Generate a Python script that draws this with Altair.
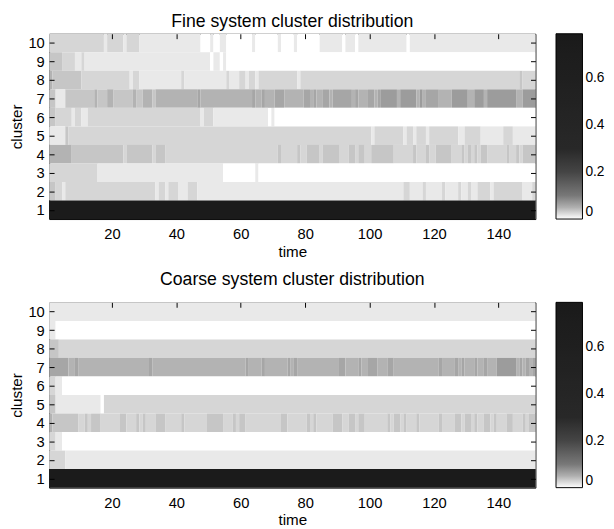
import altair as alt
import pandas as pd

# grey level codes -> cluster probability value
LEVELS = {"W": 0.0, "A": 0.01, "B": 0.02, "C": 0.03, "D": 0.045,
          "E": 0.06, "F": 0.075, "K": 0.75}

# run-length rows: code + last time step of the run
FINE_ROWS = {
    10: "B17 A18 B23 A24 B28 A47 W50 A51 W53 A55 W63 A64 W71 A72 W76 A77 W84 A91 W92 A95 W96 A111 W112 A151",
    9: "C4 B8 A10 B11 A50 W51 A53 W54 A55 W151",
    8: "D1 C10 B25 A26 B28 A41 B42 A55 B56 A59 B61 A62 B64 A65 B77 A78 B146 C147 B151",
    7: "C2 A5 C14 D15 C18 D20 C26 D27 C29 D32 C33 D46 E47 D63 E64 D66 E67 D70 E73 D79 E81 D82 E83 D85 E87 D88 E94 D95 E96 D99 E101 D102 E103 F108 D109 F114 D115 F116 D117 E121 D125 F130 D132 F135 D136 F145 D147 F151",
    6: "C2 B7 A8 B10 A12 B47 A48 B51 A68 W69 A70 W151",
    5: "A5 C6 B100 A101 B110 A111 B113 A114 B117 A118 B127 A129 B134 A141 B144 A151",
    4: "D7 C23 B24 C32 B33 C36 B71 C72 B77 C78 B80 C84 B85 C90 B93 C95 B96 C98 B100 C107 B113 C114 B117 C118 B120 C125 B128 C129 B130 C131 B132 C133 B134 C136 B142 C143 B145 C146 B147 C151",
    3: "B15 A54 W64 A65 W151",
    2: "C2 B4 A5 B33 A34 B36 A37 B40 A43 B46 A110 B112 A116 B117 A122 B123 A127 B128 A130 B131 A133 B137 A138 B147 A150 B151",
    1: "K151",
}

COARSE_ROWS = {
    10: "A151",
    9: "A2 W151",
    8: "C3 B151",
    7: "E6 D8 E9 D31 E32 D61 E62 D66 E67 D74 E75 D76 E77 D90 E92 D96 E97 D99 E102 D105 E107 D121 E122 D126 E127 D128 E129 D132 E133 D135 E136 D139 F145 D146 E147 D148 E149 D150 E151",
    6: "B2 A4 W151",
    5: "C2 A16 W17 B151",
    4: "D1 C9 B11 C12 B13 C16 B22 C24 B27 C28 B29 C30 B33 C36 B41 C42 B49 C54 B57 C58 B59 C61 B72 C74 B80 C81 B82 C83 B88 C91 B93 C95 B96 C98 B105 C106 B107 C109 B110 C111 B114 C115 B121 C122 B126 C128 B129 C131 B132 C133 B135 C137 B138 C139 B142 C144 B147 C148 B149 C151",
    3: "B2 A4 W151",
    2: "B5 A151",
    1: "K151",
}

TIME_TICKS = [20, 40, 60, 80, 100, 120, 140]
CLUSTERS = list(range(1, 11))
LEGEND_VALUES = [0, 0.2, 0.4, 0.6]
COLOR_DOMAIN = [0, 0.01, 0.02, 0.03, 0.045, 0.06, 0.075, 0.1, 0.2, 0.3, 0.79]
COLOR_RANGE = ["#ffffff", "#e9e9e9", "#d6d6d6", "#c6c6c6", "#b3b3b3", "#a6a6a6",
               "#9c9c9c", "#787878", "#454545", "#282828", "#1a1a1a"]

W, H = 496, 189
FONT = "Liberation Sans"


def runs_frame(rows):
    recs = []
    for c, s in rows.items():
        start = 1
        for tok in s.split():
            lv, end = tok[0], int(tok[1:])
            recs.append(dict(cluster=c, t0=start, t1=end, value=LEVELS[lv]))
            start = end + 1
    return pd.DataFrame(recs)


def tick_axis(orient, values):
    # inward-pointing tick marks drawn by an unlabeled axis shifted inside the frame
    return alt.Axis(orient=orient, values=values, labels=False, title=None, domain=False,
                    grid=False, ticks=True, tickSize=5, tickColor="black", tickWidth=1,
                    offset=-5, zindex=2)


def panel(rows, title, title_offset):
    df = runs_frame(rows)
    xscale = alt.Scale(domain=[0.5, 151.5], nice=False, zero=False)
    yscale = alt.Scale(domain=[0.5, 10.5], nice=False, zero=False)
    heat = alt.Chart(df).transform_calculate(
        xs="datum.t0 - 0.5", xe="datum.t1 + 0.5",
        ys="datum.cluster - 0.5", ye="datum.cluster + 0.5",
    ).mark_rect(strokeWidth=0).encode(
        x=alt.X("xs:Q", scale=xscale,
                axis=alt.Axis(values=TIME_TICKS, title="time", ticks=False, tickSize=0,
                              grid=False, domain=False, labelFontSize=15, titleFontSize=15.5,
                              labelPadding=8, titlePadding=3, labelColor="black",
                              titleColor="black", titleFontWeight="normal", labelFont=FONT,
                              titleFont=FONT, labelOverlap=False)),
        x2="xe:Q",
        y=alt.Y("ys:Q", scale=yscale,
                axis=alt.Axis(values=CLUSTERS, title="cluster", ticks=False, tickSize=0,
                              grid=False, domain=False, labelFontSize=15, titleFontSize=15.5,
                              labelPadding=5, titlePadding=4, labelColor="black",
                              titleColor="black", titleFontWeight="normal", labelFont=FONT,
                              titleFont=FONT, labelOverlap=False)),
        y2="ye:Q",
        color=alt.Color("value:Q",
                        scale=alt.Scale(domain=COLOR_DOMAIN, range=COLOR_RANGE,
                                        interpolate="rgb", clamp=True),
                        legend=alt.Legend(title=None, values=LEGEND_VALUES, format="~g",
                                          gradientLength=H, gradientThickness=27,
                                          labelFontSize=14, labelFont=FONT,
                                          labelColor="black", gradientStrokeColor="black",
                                          gradientStrokeWidth=1, offset=20, labelOffset=3,
                                          direction="vertical", orient="right",
                                          labelOverlap=False, labelBaseline="middle")),
    )
    xt = alt.Chart(pd.DataFrame({"t": TIME_TICKS})).mark_point(opacity=0).encode(
        x=alt.X("t:Q", axis=tick_axis("top", TIME_TICKS)))
    yl = alt.Chart(pd.DataFrame({"c": CLUSTERS})).mark_point(opacity=0).encode(
        y=alt.Y("c:Q", axis=tick_axis("left", CLUSTERS)))
    yr = alt.Chart(pd.DataFrame({"c": CLUSTERS})).mark_point(opacity=0).encode(
        y=alt.Y("c:Q", axis=tick_axis("right", CLUSTERS)))
    return alt.layer(heat, xt, yl, yr).resolve_axis(
        x="independent", y="independent"
    ).properties(
        width=W, height=H,
        title=alt.Title(title, fontSize=18, fontWeight="normal", font=FONT,
                        color="black", offset=title_offset),
    )


top = panel(FINE_ROWS, "Fine system cluster distribution", 2)
bottom = panel(COARSE_ROWS, "Coarse system cluster distribution", 13)

chart = alt.vconcat(top, bottom, spacing=11).resolve_scale(
    color="independent"
).properties(padding=0).configure_view(stroke="black", strokeWidth=1)

chart.save("out.html", embed_options={"renderer": "svg", "actions": False})
